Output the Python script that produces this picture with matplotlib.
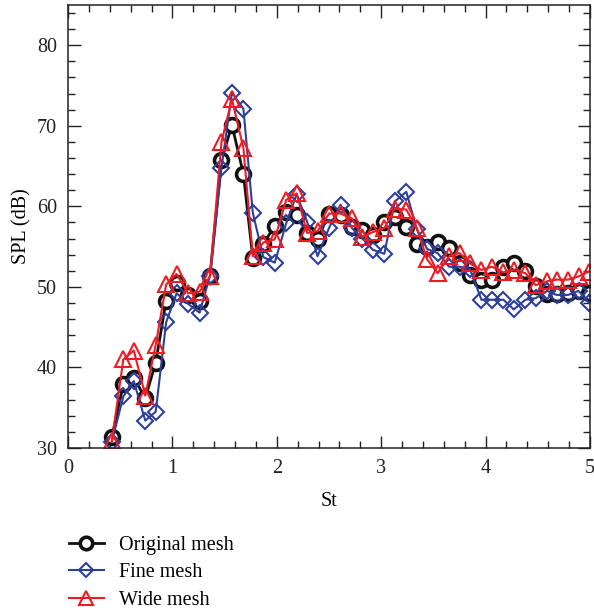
import numpy as np
import matplotlib
matplotlib.use('Agg')
import matplotlib.pyplot as plt
from matplotlib.ticker import MultipleLocator

# Strouhal numbers of the sampled spectrum
st = [0.42, 0.53, 0.63, 0.74, 0.84, 0.94, 1.04, 1.15, 1.26, 1.36,
      1.47, 1.57, 1.68, 1.77, 1.87, 1.98, 2.09, 2.19, 2.29, 2.39,
      2.50, 2.61, 2.72, 2.82, 2.92, 3.03, 3.13, 3.24, 3.34, 3.44,
      3.54, 3.65, 3.75, 3.85, 3.96, 4.06, 4.17, 4.27, 4.38, 4.48,
      4.59, 4.68, 4.79, 4.89, 4.99]

spl_original = [31.4, 37.9, 38.7, 36.2, 40.6, 48.3, 50.5, 49.0, 48.2, 51.4,
                65.7, 70.1, 64.0, 53.6, 55.3, 57.6, 59.3, 58.9, 56.7, 55.9,
                59.1, 58.9, 57.4, 57.1, 56.4, 58.1, 58.7, 57.4, 55.3, 55.0,
                55.6, 54.8, 53.0, 51.5, 50.9, 50.8, 52.5, 53.0, 52.0, 50.1,
                49.1, 49.1, 49.3, 49.5, 49.3]

spl_fine = [30.8, 36.4, 38.3, 33.4, 34.5, 45.6, 49.2, 47.9, 46.8, 51.4,
            64.8, 74.1, 72.1, 59.2, 53.7, 53.0, 57.9, 61.5, 58.1, 53.8,
            57.3, 60.2, 57.3, 56.0, 54.6, 54.1, 60.6, 61.8, 57.2, 54.7,
            54.2, 52.5, 52.5, 52.2, 48.4, 48.4, 48.4, 47.2, 48.4, 48.6,
            49.5, 49.0, 49.0, 49.5, 48.0]

spl_wide = [30.9, 41.0, 42.1, 36.5, 42.8, 50.3, 51.6, 49.2, 49.4, 51.3,
            68.0, 73.3, 67.2, 53.8, 55.5, 55.9, 60.8, 61.6, 56.7, 56.9,
            59.1, 59.1, 58.5, 56.2, 56.8, 57.3, 59.7, 59.6, 57.3, 53.4,
            51.7, 53.8, 54.2, 52.9, 52.1, 52.5, 51.8, 52.1, 51.7, 50.2,
            50.7, 50.9, 50.9, 51.3, 51.9]

BLACK = '#111111'
BLUE = '#2E3F9A'
RED = '#EC1C24'

plt.rcParams['font.family'] = ['Liberation Serif', 'DejaVu Serif']
plt.rcParams['font.size'] = 14.5

fig = plt.figure(figsize=(5.94, 6.12), dpi=100)
ax = fig.add_axes([0.1145, 0.268, 0.8788, 0.724])

l1, = ax.plot(st, spl_original, color=BLACK, lw=2.0, marker='o', ms=10,
              mfc='white', mec=BLACK, mew=2.6, label='Original mesh')
l2, = ax.plot(st, spl_fine, color=BLUE, lw=1.5, marker='D', ms=8,
              mfc='none', mec=BLUE, mew=1.5, label='Fine mesh')
l3, = ax.plot(st, spl_wide, color=RED, lw=1.5, marker='^', ms=11.5,
              mfc='none', mec=RED, mew=1.5, label='Wide mesh')

ax.set_xlim(0, 5)
ax.set_ylim(30, 85)
ax.xaxis.set_major_locator(MultipleLocator(1))
ax.xaxis.set_minor_locator(MultipleLocator(0.2))
ax.yaxis.set_minor_locator(MultipleLocator(2))
ax.set_yticks([30, 40, 50, 60, 70, 80])
ax.tick_params(which='both', direction='in', top=True, right=True,
               width=1.0, labelsize=14.5, colors='#222222')
ax.tick_params(which='major', length=9, pad=8)
ax.tick_params(which='minor', length=5)
for s in ax.spines.values():
    s.set_linewidth(1.1)
    s.set_color('#222222')

ax.set_xlabel('St', labelpad=10)
ax.set_ylabel('SPL (dB)', labelpad=4)

fig.legend(handles=[l1, l2, l3], loc='upper left',
           bbox_to_anchor=(0.102, 0.137), frameon=False,
           handlelength=1.75, handletextpad=0.75, labelspacing=0.4,
           borderaxespad=0, fontsize=14.5, markerscale=0.9)

fig.savefig('out.png', dpi=100, facecolor='white')
plt.close()
